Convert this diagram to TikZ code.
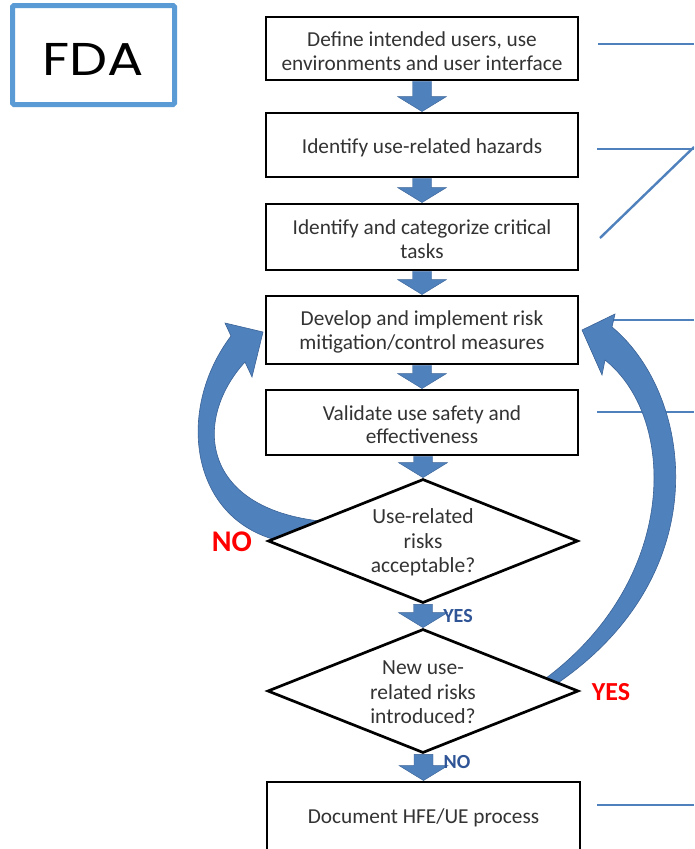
\documentclass[tikz,border=0pt]{standalone}
\usepackage{fontspec}
\setmainfont{Carlito}
\newfontfamily\fdafont[FakeStretch=1.17]{Poppins}
\usetikzlibrary{shapes.geometric,calc}
\definecolor{arrblue}{HTML}{4F81BD}
\definecolor{arredge}{HTML}{3A6296}
\definecolor{linblue}{HTML}{4F81BD}
\definecolor{fdablue}{HTML}{5B9BD5}
\definecolor{txtgray}{HTML}{333333}
\definecolor{lblblue}{HTML}{2F5597}
\newcommand\blkarr[2]{%
  \path[blk] let \p1=(#1.south), \p2=(#2.north) in
  (\x2-9.5pt,\y1) -- (\x2+9.5pt,\y1) -- (\x2+9.5pt,\y2+15pt) -- (\x2+24.5pt,\y2+15pt)
  -- (\x2,\y2) -- (\x2-24.5pt,\y2+15pt) -- (\x2-9.5pt,\y2+15pt) -- cycle;}
\begin{document}
\begin{tikzpicture}[x=1pt,y=-1pt,
  stepbox/.style={draw=black, line width=2.9pt, fill=white, rectangle, minimum width=312pt,
    inner sep=0},
  btext/.style={align=center, inner sep=0, font=\fontsize{21.3}{23.5}\selectfont, text=txtgray},
  decision/.style={draw=black, line width=2.7pt, fill=white, diamond, inner sep=0},
  dtext/.style={align=center, inner sep=0, font=\fontsize{21.5}{24.5}\selectfont, text=txtgray},
  blk/.style={fill=arrblue, draw=arredge, line width=0.4pt},
  curvarr/.style={fill=arrblue, draw=arredge, line width=0.6pt},
  refline/.style={draw=linblue, line width=2.4pt},
  redlbl/.style={text=red, font=\bfseries\fontsize{26}{26}\selectfont, inner sep=0},
  bluelbl/.style={text=lblblue, font=\bfseries\fontsize{20}{20}\selectfont, inner sep=0}]
\clip (0,0) rectangle (694,849);
\fill[white] (0,0) rectangle (694,849);

% FDA box
\node[draw=fdablue, line width=5pt, rounded corners=1.5pt, minimum width=162pt,
  minimum height=99pt, inner sep=0] (fda) at (93.5,55) {};
\node[font=\fdafont\fontsize{46}{46}\selectfont, inner sep=0] (fdat) at (93,59.5) {FDA};

% reference lines on the right
\coordinate (l1a) at (598,44);  \coordinate (l1b) at (694,44);
\coordinate (l2a) at (597,149); \coordinate (l2b) at (694,149);
\coordinate (l2c) at (600,238); \coordinate (l2d) at (694,147);
\coordinate (l3a) at (608,320); \coordinate (l3b) at (694,320);
\coordinate (l4a) at (597,412); \coordinate (l4b) at (694,412);
\coordinate (l5a) at (597,805); \coordinate (l5b) at (694,805);
\draw[refline] (l1a) -- (l1b);
\draw[refline] (l2a) -- (l2b);
\draw[refline] (l2c) -- (l2d);
\draw[refline] (l3a) -- (l3b);
\draw[refline] (l4a) -- (l4b);
\draw[refline] (l5a) -- (l5b);

% curved feedback arrows
\path[curvarr] (263,332) -- (225,323) -- (231,336)
  .. controls (175,410) and (190,520) .. (280,541)
  -- (330,522)
  .. controls (200,512) and (192,420) .. (245,362)
  -- (252,377) -- cycle;
\path[curvarr] (582,330) -- (615,314) -- (612,327)
  .. controls (700,400) and (725,610) .. (500,716)
  -- (535,686)
  .. controls (678,588) and (680,420) .. (605,360)
  -- (602,375) -- cycle;

% process steps
\node[stepbox, minimum height=63pt] (b1) at (422,48.5) {};
\node[btext] (b1t) at ([yshift=-2.5pt]b1.center) {Define intended users, use\\environments and user interface};
\node[stepbox, minimum height=64pt] (b2) at (422,145) {};
\node[btext] (b2t) at ([yshift=-2.5pt]b2.center) {Identify use-related hazards};
\node[stepbox, minimum height=66pt] (b3) at (422,237) {};
\node[btext] (b3t) at ([yshift=-2pt]b3.center) {Identify and categorize critical\\tasks};
\node[stepbox, minimum height=68pt] (b4) at (422,330) {};
\node[btext] (b4t) at ([yshift=-2pt]b4.center) {Develop and implement risk\\mitigation/control measures};
\node[stepbox, minimum height=65pt] (b5) at (422,422.5) {};
\node[btext] (b5t) at ([yshift=-2pt]b5.center) {Validate use safety and\\effectiveness};
\node[decision, minimum width=310pt, minimum height=124pt] (d1) at (423,541) {};
\node[dtext] (d1t) at ([yshift=-1.5pt]d1.center) {Use-related\\risks\\acceptable?};
\node[decision, minimum width=311pt, minimum height=124pt] (d2) at (423,691) {};
\node[dtext] (d2t) at ([yshift=-1.5pt]d2.center) {New use-\\related risks\\introduced?};
\node[stepbox, minimum width=313pt, minimum height=68pt] (b6) at (423.5,816) {};
\node[btext] (b6t) at ([yshift=-1.5pt]b6.center) {Document HFE/UE process};

% straight block arrows
\blkarr{b1}{b2}
\blkarr{b2}{b3}
\blkarr{b3}{b4}
\blkarr{b4}{b5}
\blkarr{b5}{d1}
\blkarr{d1}{d2}
\blkarr{d2}{b6}

% labels
\node[redlbl, font=\bfseries\fontsize{30}{30}\selectfont] (no1) at (232,542) {NO};
\node[redlbl] (yes2) at (611,692) {YES};
\node[bluelbl] (yes1) at (458,616) {YES};
\node[bluelbl] (no2) at (457,762) {NO};
\end{tikzpicture}
\end{document}
